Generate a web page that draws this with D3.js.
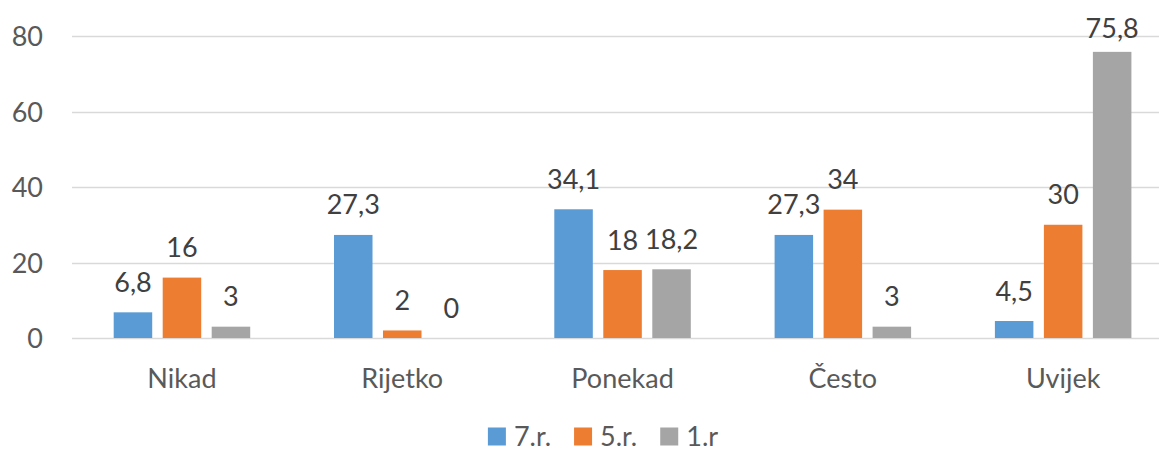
<!DOCTYPE html>
<html>
<head>
<meta charset="utf-8">
<script src="https://cdnjs.cloudflare.com/ajax/libs/d3/7.8.5/d3.min.js"></script>
<style>
	html, body { margin: 0; padding: 0; background: #fff; }
	svg { display: block; font-family: Lato, 'Open Sans', sans-serif; }
</style>
</head>
<body>
<svg id="chart"></svg>
<script>
const CATEGORIES = ['Nikad', 'Rijetko', 'Ponekad', 'Često', 'Uvijek'];
const SERIES = ['7.r.', '5.r.', '1.r'];
const VALUES_7 = [6.8, 27.3, 34.1, 27.3, 4.5];
const VALUES_5 = [16, 2, 18, 34, 30];
const VALUES_1 = [3, 0, 18.2, 3, 75.8];
const Y_TICKS = [0, 20, 40, 60, 80];
const COLORS = ['#5B9BD5', '#ED7D31', '#A5A5A5'];

const WIDTH = 1159;
const HEIGHT = 452;
const FONT = 27;

const seriesValues = [VALUES_7, VALUES_5, VALUES_1];
const rows = CATEGORIES.map((c, i) => ({
	cat: c,
	vals: SERIES.map((s, j) => ({ key: s, value: seriesValues[j][i], color: COLORS[j] }))
}));

const $svg = d3.select('#chart').attr('width', WIDTH).attr('height', HEIGHT);

// plot area runs a bit past the right edge, the source was cropped
const x0 = d3.scaleBand().domain(CATEGORIES).range([71.8, 1173.3]);
const x1 = d3.scaleBand()
	.domain(SERIES)
	.range([0, x0.bandwidth()])
	.paddingInner(0.214)
	.paddingOuter(0.855);
const y = d3.scaleLinear().domain([0, 80]).range([338, 36]);

// gridlines
$svg.append('g')
	.selectAll('line')
	.data(Y_TICKS)
	.join('line')
	.attr('x1', 72)
	.attr('x2', 1173)
	.attr('y1', d => Math.round(y(d)) + 0.5)
	.attr('y2', d => Math.round(y(d)) + 0.5)
	.attr('stroke', '#D9D9D9')
	.attr('stroke-width', 1.3);

// y labels
const yAxis = d3.axisLeft(y).tickValues(Y_TICKS).tickSize(0).tickPadding(0);
const $yAxis = $svg.append('g').attr('transform', 'translate(43,0)').call(yAxis);
$yAxis.select('.domain').remove();
$yAxis.selectAll('text')
	.attr('font-size', FONT)
	.attr('font-family', 'Lato, sans-serif')
	.attr('fill', '#595959')
	.attr('dy', '0.36em');

// x labels
const xAxis = d3.axisBottom(x0).tickSize(0).tickPadding(0);
const $xAxis = $svg.append('g').attr('transform', 'translate(0,388)').call(xAxis);
$xAxis.select('.domain').remove();
$xAxis.selectAll('text')
	.attr('font-size', FONT)
	.attr('font-family', 'Lato, sans-serif')
	.attr('fill', '#595959')
	.attr('dy', 0);

// bars
const $groups = $svg.append('g')
	.selectAll('g')
	.data(rows)
	.join('g')
	.attr('transform', d => `translate(${x0(d.cat)},0)`);

$groups.selectAll('rect')
	.data(d => d.vals)
	.join('rect')
	.attr('x', d => x1(d.key))
	.attr('width', x1.bandwidth())
	.attr('y', d => y(d.value))
	.attr('height', d => y(0) - y(d.value))
	.attr('fill', d => d.color);

$groups.selectAll('text')
	.data(d => d.vals)
	.join('text')
	.attr('x', d => x1(d.key) + x1.bandwidth() / 2)
	.attr('y', d => Math.max(y(d.value) - 20.5, 38.3))
	.attr('text-anchor', 'middle')
	.attr('font-size', FONT)
	.attr('fill', '#404040')
	.text(d => String(d.value).replace('.', ','));

// legend, kept a few px off the bottom edge so descenders are not clipped
const $legend = $svg.append('g').attr('transform', 'translate(0,446)');
const $items = $legend.selectAll('g')
	.data(SERIES)
	.join('g');
$items.append('rect')
	.attr('y', -18.5)
	.attr('width', 18)
	.attr('height', 18)
	.attr('fill', (d, i) => COLORS[i]);
$items.append('text')
	.attr('x', 26)
	.attr('font-size', FONT)
	.attr('fill', '#595959')
	.text(d => d);

let offset = 0;
const widths = [];
$items.each(function () {
	const w = 26 + this.querySelector('text').getComputedTextLength();
	widths.push(w);
});
const total = d3.sum(widths) + 23 * (widths.length - 1);
offset = 603 - total / 2;
$items.attr('transform', (d, i) => {
	const t = `translate(${offset},0)`;
	offset += widths[i] + 23;
	return t;
});
</script>
</body>
</html>
